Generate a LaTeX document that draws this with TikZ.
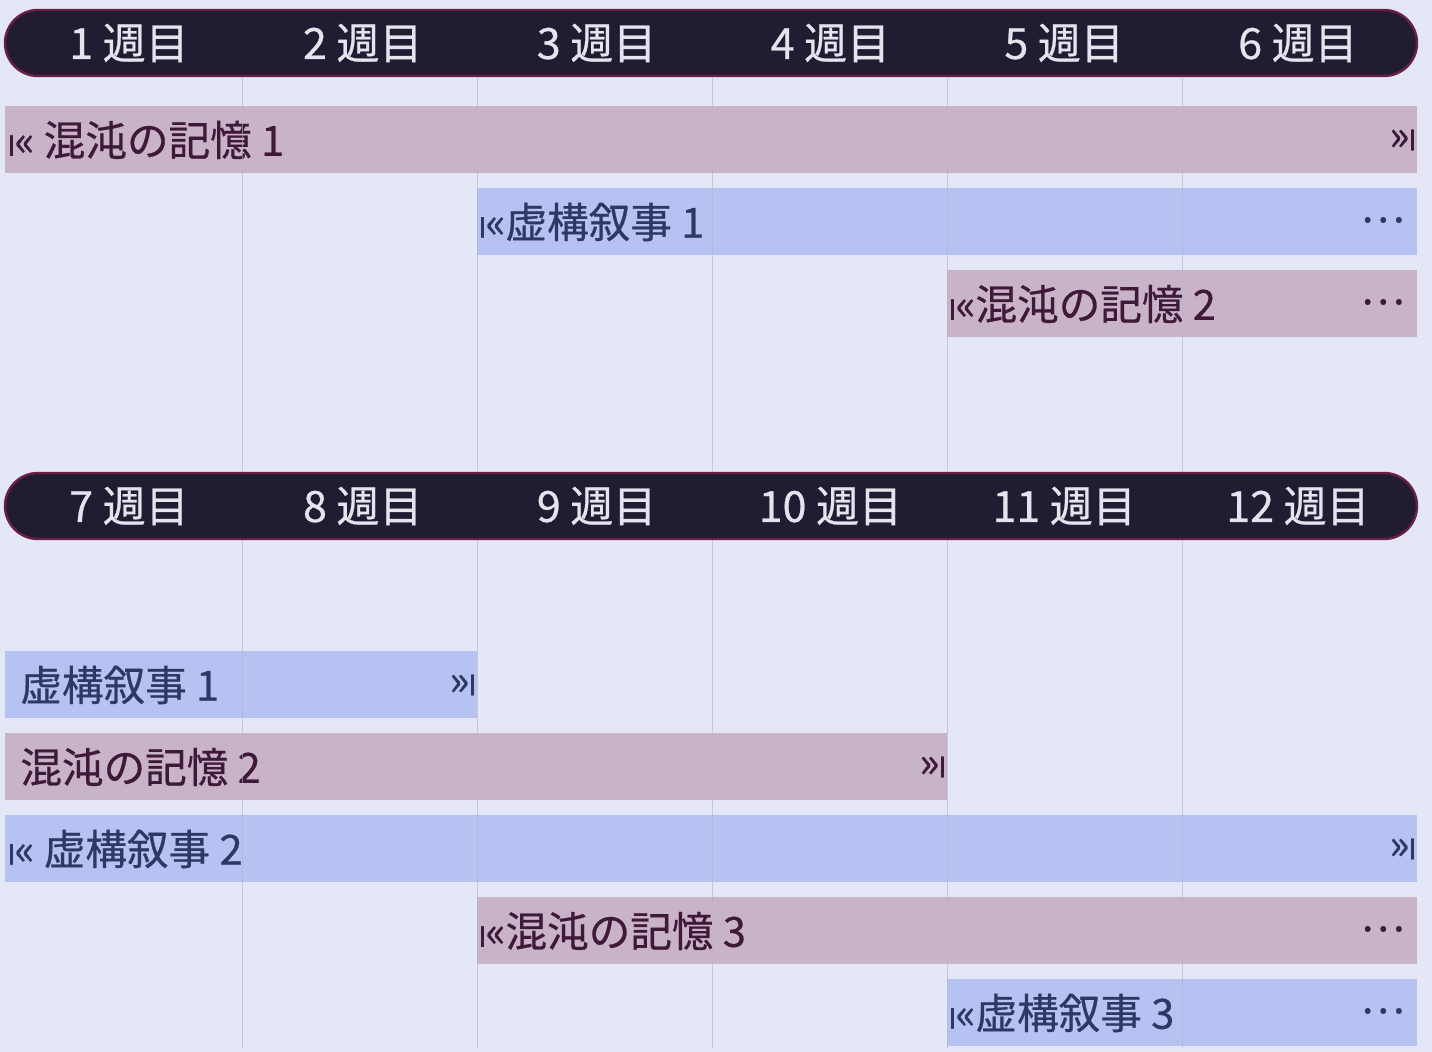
\documentclass[tikz,border=0pt]{standalone}
\usepackage{fontspec}
\setmainfont{Noto Sans CJK JP}[FakeBold=0.6]
\usetikzlibrary{positioning}

\definecolor{bgcol}{HTML}{E3E7F6}
\definecolor{headfill}{HTML}{221C33}
\definecolor{headline}{HTML}{6A1F45}
\definecolor{headtext}{HTML}{E4E4EE}
\definecolor{chaosfill}{HTML}{C9B3C9}
\definecolor{chaostext}{HTML}{3E1A38}
\definecolor{fictfill}{HTML}{B6C3F2}
\definecolor{fictext}{HTML}{2E3766}
\definecolor{gridcol}{HTML}{B4B4C8}

\newcommand{\gomark}{{\fontsize{14}{14}\selectfont I}\kern-0.5pt«}
\newcommand{\stopmark}{»\kern-0.5pt{\fontsize{14}{14}\selectfont I}}

\tikzset{
  weeklabel/.style={text=headtext, font=\fontsize{21.5}{24}\selectfont},
  chaoslabel/.style={text=chaostext, anchor=west, inner sep=0pt, font=\fontsize{20.8}{24}\selectfont},
  fictlabel/.style={text=fictext, anchor=west, inner sep=0pt, font=\fontsize{20.8}{24}\selectfont},
}

\begin{document}
\begin{tikzpicture}[x=0.5pt, y=-0.5pt]

\useasboundingbox[fill=bgcol] (0,0) rectangle (1432,1052);

% Week headers
\draw[fill=headfill, draw=headline, line width=1.2pt, rounded corners=16.5pt] (5,10) rectangle (1417,76);
\draw[fill=headfill, draw=headline, line width=1.2pt, rounded corners=16.5pt] (5,473) rectangle (1417,539);
\foreach \k in {1,...,6} {
  \node[weeklabel] (w\k) at ({129+233.8*(\k-1)},43) {\k\ 週目};
}
\foreach \k in {7,...,12} {
  \node[weeklabel] (w\k) at ({129+233.8*(\k-7)},506) {\k\ 週目};
}

% Weeks 1-6
\fill[chaosfill] (5,106) rectangle (1417,173);
\node[chaoslabel] (c1) at (7,140) {\gomark\ 混沌の記憶 1};
\node[chaoslabel, anchor=east] (c1end) at (1417,140) {\stopmark};

\fill[fictfill] (477,188) rectangle (1417,255);
\node[fictlabel] (f1) at (478,222) {\gomark 虚構叙事 1};
\node[fictlabel, anchor=east] (f1end) at (1405,220) {…};

\fill[chaosfill] (947,270) rectangle (1417,337);
\node[chaoslabel] (c2) at (948,304) {\gomark 混沌の記憶 2};
\node[chaoslabel, anchor=east] (c2end) at (1405,302) {…};

% Weeks 7-12
\fill[fictfill] (5,651) rectangle (477,718);
\node[fictlabel] (f1b) at (20,685) {虚構叙事 1};
\node[fictlabel, anchor=east] (f1bend) at (477,685) {\stopmark};

\fill[chaosfill] (5,733) rectangle (947,800);
\node[chaoslabel] (c2b) at (20,767) {混沌の記憶 2};
\node[chaoslabel, anchor=east] (c2bend) at (947,767) {\stopmark};

\fill[fictfill] (5,815) rectangle (1417,882);
\node[fictlabel] (f2) at (7,849) {\gomark\ 虚構叙事 2};
\node[fictlabel, anchor=east] (f2end) at (1417,849) {\stopmark};

\fill[chaosfill] (477,897) rectangle (1417,964);
\node[chaoslabel] (c3) at (478,931) {\gomark 混沌の記憶 3};
\node[chaoslabel, anchor=east] (c3end) at (1405,929) {…};

\fill[fictfill] (947,979) rectangle (1417,1046);
\node[fictlabel] (f3) at (948,1013) {\gomark 虚構叙事 3};
\node[fictlabel, anchor=east] (f3end) at (1405,1011) {…};

% Week dividers
\foreach \x in {242,477,712,947,1182} {
  \draw[gridcol, opacity=0.6, line width=0.5pt] (\x,77) -- (\x,472);
  \draw[gridcol, opacity=0.6, line width=0.5pt] (\x,540) -- (\x,1048);
}

\end{tikzpicture}
\end{document}
